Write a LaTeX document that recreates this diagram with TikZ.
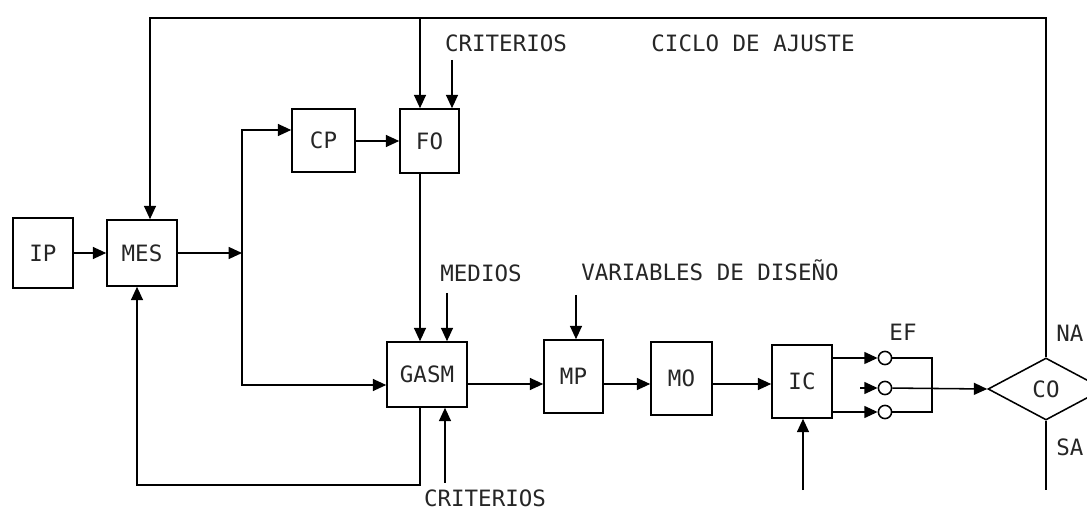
\documentclass[tikz,border=0pt]{standalone}
\usepackage{fontspec}
\setmonofont{DejaVu Sans Mono}
\usetikzlibrary{arrows.meta,shapes.geometric,calc}
\tikzset{
  lw/.style={line width=1.1pt},
  arr/.style={lw,-{Triangle[length=9.5pt,width=8.5pt]}},
  box/.style={draw,lw,inner sep=0pt,font=\ttfamily\fontsize{16}{18}\selectfont,text=black!85},
  lbl/.style={inner sep=0pt,font=\ttfamily\fontsize{16}{18}\selectfont,text=black!85,text height=0.425cm,text depth=0pt},
  circ/.style={draw,lw,circle,inner sep=0pt,minimum size=0.33cm}
}
\begin{document}
\begin{tikzpicture}[x=0.025cm,y=-0.025cm]
\useasboundingbox (0,0) rectangle (1087,511);
\clip (0,0) rectangle (1087,511);
\fill[white] (0,0) rectangle (1087,511);
% boxes
\node[box,minimum width=1.5cm,minimum height=1.75cm] (IP) at (43,253) {IP};
\node[box,minimum width=1.75cm,minimum height=1.65cm] (MES) at (142,253) {MES};
\node[box,minimum width=1.575cm,minimum height=1.575cm] (CP) at (323.5,140.5) {CP};
\node[box,minimum width=1.475cm,minimum height=1.6cm] (FO) at (429.5,141) {FO};
\node[box,minimum width=2.0cm,minimum height=1.625cm] (GASM) at (427,374.5) {GASM};
\node[box,minimum width=1.475cm,minimum height=1.825cm] (MP) at (573.5,376.5) {MP};
\node[box,minimum width=1.525cm,minimum height=1.825cm] (MO) at (681.5,378.5) {MO};
\node[box,minimum width=1.5cm,minimum height=1.825cm] (IC) at (802,381.5) {IC};
\node[box,shape=diamond,minimum width=2.9cm,minimum height=1.55cm] (CO) at (1046,389) {CO};
\node[circ] (c1) at (885,358) {};
\node[circ] (c2) at (885,388) {};
\node[circ] (c3) at (885,412) {};
% labels
\node[lbl] (lcrit) at (506,43) {CRITERIOS};
\node[lbl] (lciclo) at (753,43) {CICLO DE AJUSTE};
\node[lbl] (lmed) at (481,273) {MEDIOS};
\node[lbl] (lvar) at (710,272) {VARIABLES DE DISEÑO};
\node[lbl] (lcrit2) at (485,498) {CRITERIOS};
\node[lbl] (lef) at (903,332) {EF};
\node[lbl,anchor=west] (lna) at (1056,333) {NA};
\node[lbl,anchor=west] (lsa) at (1056,447) {SA};
% coordinates
\coordinate (j) at (242,253);
\coordinate (jt) at (242,130);
\coordinate (jb) at (242,385);
\coordinate (r) at (0,384);
\coordinate (t2) at (150,18);
\coordinate (f1) at (420,18);
\coordinate (f2) at (452,60);
\coordinate (m1) at (447,293);
\coordinate (b1) at (420,485);
\coordinate (b2) at (137,485);
\coordinate (cr) at (445,483);
\coordinate (v1) at (576,295);
\coordinate (ib) at (803,490);
\coordinate (mid) at (860,388);
\coordinate (k3) at (932,412);
\coordinate (s) at (1046,490);
% connectors
\draw[arr] (IP) -- (MES);
\draw[arr] (MES.east |- j) -- (j);
\draw[arr] (j) -- (jt) -- (CP.west |- jt);
\draw[arr] (j) -- (jb) -- (GASM.west |- jb);
\draw[arr] (CP.east |- FO.west) -- (FO.west);
\draw[arr] (CO.north) |- (t2) -- (MES.north -| t2);
\draw[arr] (f1) -- (FO.north -| f1);
\draw[arr] (f2) -- (FO.north -| f2);
\draw[arr] (FO.south -| f1) -- (GASM.north -| f1);
\draw[arr] (m1) -- (GASM.north -| m1);
\draw[arr] (GASM.south -| b1) -- (b1) -- (b2) -- (MES.south -| b2);
\draw[arr] (cr) -- (GASM.south -| cr);
\draw[arr] (GASM.east |- r) -- (MP.west |- r);
\draw[arr] (MP.east |- r) -- (MO.west |- r);
\draw[arr] (MO.east |- r) -- (IC.west |- r);
\draw[arr] (v1) -- (MP.north -| v1);
\draw[arr] (ib) -- (IC.south -| ib);
\draw[arr] (IC.east |- c1) -- (c1);
\draw[arr] (mid) -- (c2);
\draw[arr] (IC.east |- c3) -- (c3);
\draw[lw] (c1.east) -| (k3) -- (c3.east);
\draw[arr] (c2) -- (CO.west);
\draw[lw] (CO.south) -- (s);
\end{tikzpicture}
\end{document}
